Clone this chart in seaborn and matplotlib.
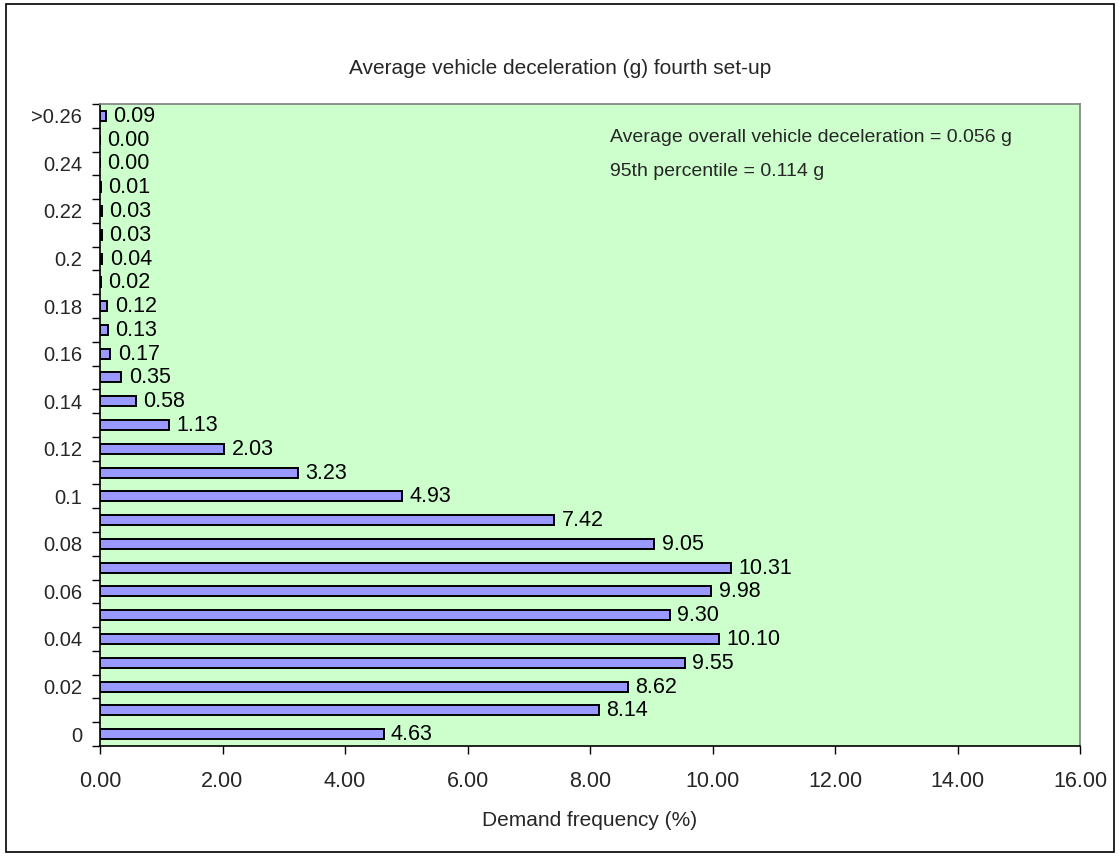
import matplotlib
matplotlib.use("Agg")
import matplotlib.pyplot as plt
from matplotlib.patches import Rectangle
from matplotlib.ticker import FixedLocator, NullFormatter
import seaborn as sns
import pandas as pd

# Deceleration bins (g), lowest first
bins = ["0", "0.01", "0.02", "0.03", "0.04", "0.05", "0.06", "0.07", "0.08",
        "0.09", "0.1", "0.11", "0.12", "0.13", "0.14", "0.15", "0.16", "0.17",
        "0.18", "0.19", "0.2", "0.21", "0.22", "0.23", "0.24", "0.25", ">0.26"]
# Demand frequency (%) per bin
frequency = [4.63, 8.14, 8.62, 9.55, 10.10, 9.30, 9.98, 10.31, 9.05, 7.42,
             4.93, 3.23, 2.03, 1.13, 0.58, 0.35, 0.17, 0.13, 0.12, 0.02,
             0.04, 0.03, 0.03, 0.01, 0.00, 0.00, 0.09]
x_ticks = [0, 2, 4, 6, 8, 10, 12, 14, 16]

title = "Average vehicle deceleration (g) fourth set-up"
notes = ["Average overall vehicle deceleration = 0.056 g",
         "95th percentile = 0.114 g"]

sns.set_theme(style="white")
plt.rcParams["font.family"] = ["Liberation Sans", "DejaVu Sans"]
FS = 15.5

df = pd.DataFrame({"bin": bins, "freq": frequency})
order = bins[::-1]  # highest bin at the top

fig = plt.figure(figsize=(11.2, 8.56), dpi=100)
fig.patch.set_facecolor("white")
fig.add_artist(Rectangle((0.005, 0.005), 0.99, 0.99, transform=fig.transFigure,
                         fill=False, edgecolor="black", linewidth=1.2))

ax = fig.add_axes([100 / 1120, 1 - 746 / 856, 980 / 1120, 642 / 856])
ax.set_facecolor("#CCFFCC")

sns.barplot(data=df, y="bin", x="freq", order=order, orient="h",
            color="#9999FF", edgecolor="black", linewidth=1.4,
            width=0.42, saturation=1, ax=ax)

n = len(bins)
ax.set_xlim(0, 16)
ax.set_ylim(n - 0.5, -0.5)

# value labels at bar ends
for i, cat in enumerate(order):
    v = df.loc[df["bin"] == cat, "freq"].iloc[0]
    ax.text(v + 0.12, i + 0.02, f"{v:.2f}", va="center", ha="left",
            fontsize=FS, color="black")

# y axis: labels on every other bin, ticks at bin boundaries
label_pos = [i for i, c in enumerate(order) if bins.index(c) % 2 == 0]
ax.set_yticks(label_pos)
ax.set_yticklabels([order[i] for i in label_pos], fontsize=14.5)
ax.yaxis.set_minor_locator(FixedLocator([k - 0.5 for k in range(n + 1)]))
ax.yaxis.set_minor_formatter(NullFormatter())
ax.tick_params(axis="y", which="major", length=0, pad=13)
ax.tick_params(axis="y", which="minor", length=6, width=1, color="black",
               direction="out", left=True)

ax.set_xticks(x_ticks)
ax.set_xticklabels([f"{t:.2f}" for t in x_ticks], fontsize=FS)
ax.tick_params(axis="x", which="major", length=6, width=1, color="black",
               direction="out", bottom=True, pad=12)

ax.set_xlabel("Demand frequency (%)", fontsize=15, labelpad=14)
ax.set_ylabel("")

for side in ["left", "bottom"]:
    ax.spines[side].set_color("black")
    ax.spines[side].set_linewidth(1.2)
for side in ["top", "right"]:
    ax.spines[side].set_color("#808080")
    ax.spines[side].set_linewidth(1.2)

fig.text(0.5, 1 - 69 / 856, title, ha="center", va="center", fontsize=15)
ax.text(610 / 1120, 1 - 137 / 856, notes[0], transform=fig.transFigure,
        ha="left", va="center", fontsize=14)
ax.text(610 / 1120, 1 - 172 / 856, notes[1], transform=fig.transFigure,
        ha="left", va="center", fontsize=14)

fig.savefig("out.png", dpi=100)
